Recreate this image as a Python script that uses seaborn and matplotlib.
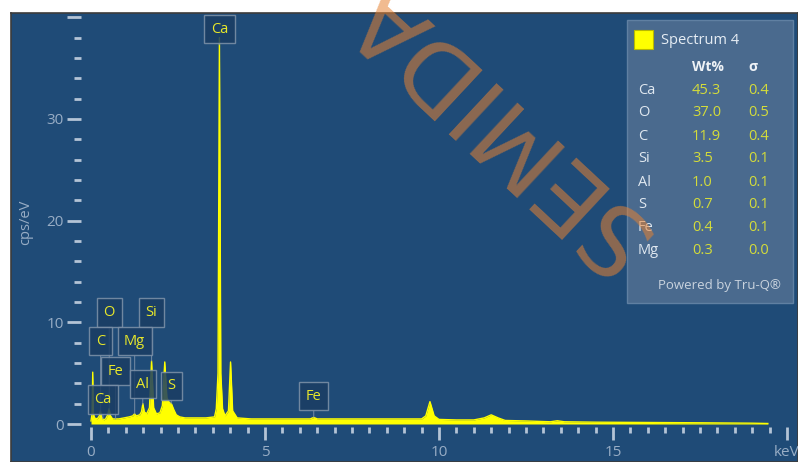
import numpy as np
import pandas as pd
import matplotlib.pyplot as plt
import seaborn as sns
from matplotlib.patches import Rectangle

# EDS spektar (keV, cps/eV) ocitan sa slike
energy = [0.00, 0.03, 0.05, 0.07, 0.10, 0.18, 0.24, 0.27, 0.30, 0.36, 0.42, 0.48,
          0.52, 0.56, 0.62, 0.70, 0.80, 0.95, 1.10, 1.20, 1.25, 1.30, 1.40, 1.45,
          1.49, 1.53, 1.60, 1.68, 1.74, 1.80, 1.88, 1.98, 2.05, 2.12, 2.18, 2.25,
          2.31, 2.38, 2.45, 2.55, 2.70, 3.00, 3.30, 3.55, 3.60, 3.65, 3.69, 3.73,
          3.78, 3.85, 3.95, 4.01, 4.07, 4.20, 4.60, 5.20, 6.00, 6.30, 6.40, 6.50,
          7.00, 8.00, 9.00, 9.50, 9.62, 9.74, 9.86, 10.0, 10.5, 11.0, 11.30, 11.50,
          11.70, 11.90, 12.5, 13.2, 13.4, 13.6, 14.5, 16.0, 17.5, 19.0, 19.45]
cps = [0.3, 1.0, 5.1, 1.0, 0.6, 0.5, 0.8, 1.3, 0.7, 0.4, 0.5, 0.9,
       1.5, 0.8, 0.5, 0.5, 0.5, 0.6, 0.7, 0.8, 1.0, 0.8, 0.9, 1.2,
       2.0, 1.2, 1.0, 1.6, 6.2, 1.6, 1.0, 1.1, 1.8, 6.1, 2.6, 2.1,
       2.0, 1.4, 0.9, 0.7, 0.6, 0.6, 0.6, 0.7, 1.5, 5.0, 38.0, 5.0,
       1.5, 0.8, 1.3, 6.1, 1.3, 0.6, 0.5, 0.5, 0.5, 0.5, 0.65, 0.5,
       0.5, 0.5, 0.5, 0.5, 0.8, 2.2, 0.8, 0.45, 0.4, 0.4, 0.6, 0.9,
       0.6, 0.35, 0.3, 0.22, 0.32, 0.22, 0.18, 0.15, 0.12, 0.08, 0.05]

# oznake pikova
peak_names = ['Ca', 'O', 'Si', 'C', 'Mg', 'Fe', 'Al', 'S', 'Ca', 'Fe']
peak_kev = [3.69, 0.525, 1.74, 0.277, 1.254, 0.705, 1.487, 2.307, 0.341, 6.40]
label_y = [38.8, 10.96, 10.96, 8.16, 8.16, 5.21, 3.93, 3.74, 2.41, 2.75]  # samo raspored

# tablica kvantifikacije
elements = ['Ca', 'O', 'C', 'Si', 'Al', 'S', 'Fe', 'Mg']
wt_pct = ['45.3', '37.0', '11.9', '3.5', '1.0', '0.7', '0.4', '0.3']
sigma = ['0.4', '0.5', '0.4', '0.1', '0.1', '0.1', '0.1', '0.0']

x_ticks = [0, 5, 10, 15, 20]
x_tick_labels = ['0', '5', '10', '15', 'keV']
y_ticks = [0, 10, 20, 30, 40]
y_tick_labels = ['0', '10', '20', '30', '']

plt.rcParams['font.family'] = ['Open Sans', 'DejaVu Sans']

W, H = 798, 462
fig = plt.figure(figsize=(W / 100, H / 100), dpi=100, facecolor='white')

def fx(px):
    return px / W

def fy(py):
    return 1 - py / H

panel = [fx(11), 0, 1 - fx(11), fy(13)]
bg = fig.add_axes(panel)
bg.set_facecolor('#1f4b77')
bg.set_xticks([])
bg.set_yticks([])
for s in bg.spines.values():
    s.set_color('#3c3c3c')
    s.set_linewidth(1.2)

ax = fig.add_axes(panel)
ax.set_facecolor('none')

df = pd.DataFrame({'kev': energy, 'cps': cps})
ax.fill_between(df.kev, 0, df.cps, color='#ffff00', lw=0, zorder=2)
sns.lineplot(data=df, x='kev', y='cps', color='#ffff00', lw=1.0, estimator=None,
             sort=False, ax=ax, zorder=3)

ax.set_xlim((11 - 91) / 34.8, (798 - 91) / 34.8)
ax.set_ylim((424 - 462) / 10.17, (424 - 13) / 10.17)

tick_c = '#b4c4d6'
lab_c = '#98adc5'
ax.spines['left'].set_position(('data', -0.29))
ax.spines['bottom'].set_position(('data', -0.34))
for s in ax.spines.values():
    s.set_visible(False)

ax.set_xticks(x_ticks)
ax.set_xticklabels(x_tick_labels)
ax.set_xticks(np.arange(0, 20.01, 0.5), minor=True)
ax.set_yticks(y_ticks)
ax.set_yticklabels(y_tick_labels)
ax.set_yticks(np.arange(0, 40.1, 2), minor=True)
ax.tick_params(axis='x', which='major', length=9.5, width=2, color=tick_c,
               labelcolor=lab_c, labelsize=11, pad=3)
ax.tick_params(axis='x', which='minor', length=4.5, width=2, color=tick_c)
ax.tick_params(axis='y', which='major', length=10, width=2, color=tick_c,
               labelcolor=lab_c, labelsize=11, pad=2.5)
ax.tick_params(axis='y', which='minor', length=4.8, width=2, color=tick_c)
ax.set_xlabel('')
ax.set_ylabel('cps/eV', color=lab_c, fontsize=10.5)
ax.yaxis.set_label_coords(0.028, 0.534)

# oznake elemenata sa strelicama
for name, kev, ly in zip(peak_names, peak_kev, label_y):
    ay = float(np.interp(kev, energy, cps))
    ax.annotate(name, xy=(kev, min(ay, ly - 1.5)), xytext=(kev, ly),
                ha='center', va='center', color='#e8e82a', fontsize=10.5,
                bbox=dict(boxstyle='square,pad=0.45', fc='#1b3d64', ec='#7f93aa',
                          lw=1, alpha=0.85),
                arrowprops=dict(arrowstyle='-', color='#7f93aa', lw=0.8,
                                shrinkA=0, shrinkB=0, alpha=0.8),
                zorder=5)

# legenda s tablicom
fig.patches.append(Rectangle((fx(627), fy(303)), fx(166), 283 / H,
                             transform=fig.transFigure, fc='#4a6a8e',
                             ec='#6080a2', lw=1, zorder=6))
fig.patches.append(Rectangle((fx(634), fy(49)), fx(19), 19 / H,
                             transform=fig.transFigure, fc='#ffff00',
                             ec='#b8b800', lw=0.8, zorder=7))
fig.text(fx(661), fy(40), 'Spectrum 4', color='#e6edf4', fontsize=10.5,
         va='center', ha='left', zorder=8)
fig.text(fx(692), fy(67), 'Wt%', color='#eef2f6', fontsize=10, weight='bold',
         va='center', ha='left', zorder=8)
fig.text(fx(748), fy(67), 'σ', color='#eef2f6', fontsize=10, weight='bold',
         va='center', ha='left', zorder=8)
for i in range(len(elements)):
    yy = 90 + i * 23.0
    fig.text(fx(638), fy(yy), elements[i], color='#e0e8f0', fontsize=10.5,
             va='center', ha='left', zorder=8)
    fig.text(fx(692), fy(yy), wt_pct[i], color='#d4dc3a', fontsize=10.5,
             va='center', ha='left', zorder=8)
    fig.text(fx(748), fy(yy), sigma[i], color='#d4dc3a', fontsize=10.5,
             va='center', ha='left', zorder=8)
fig.text(fx(658), fy(285), 'Powered by Tru-Q®', color='#c9d3de', fontsize=9.5,
         va='center', ha='left', zorder=8)

# vodeni zig
fig.text(fx(496), fy(122), 'SEMIDA', color='#e68232', alpha=0.55,
         fontsize=70, family='DejaVu Sans', rotation=137, rotation_mode='anchor',
         ha='center', va='center', zorder=20)

fig.savefig('out.png', dpi=100, facecolor='white')
